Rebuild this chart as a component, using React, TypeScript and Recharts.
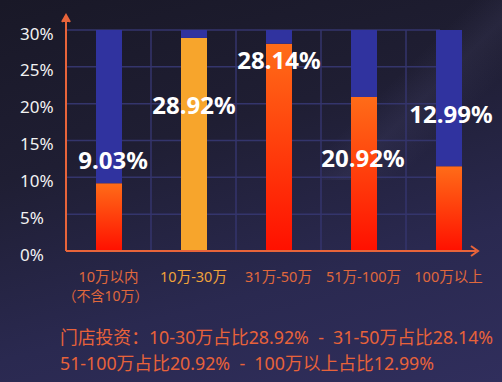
import React from 'react';
import { BarChart, Bar, XAxis, YAxis, CartesianGrid, Cell, LabelList } from 'recharts';

const categories = ['10万以内', '10万-30万', '31万-50万', '51万-100万', '100万以上'];
const subLabels = ['（不含10万）', '', '', '', ''];
const barValues = [9.2, 28.92, 28.14, 20.92, 11.5];
const valueLabels = ['9.03%', '28.92%', '28.14%', '20.92%', '12.99%'];
const yTicks = [0, 5, 10, 15, 20, 25, 30];
const yMax = 30;
const noteLines = [
  '门店投资：10-30万占比28.92%  -  31-50万占比28.14%',
  '51-100万占比20.92%  -  100万以上占比12.99%',
];

// label placement relative to the top of each bar (px), picked by eye
const labelShift = [
  { dx: 4, dy: -24 },
  { dx: 0, dy: 67 },
  { dx: 0, dy: 16 },
  { dx: -1, dy: 61 },
  { dx: 2, dy: -53 },
];

const highlight = 1;
const axisColor = '#e8643a';
const gridColor = '#34356c';
const restColor = '#30339f';
const font = '"Noto Sans", "Noto Sans CJK SC", sans-serif';

const data = categories.map((name, i) => ({
  name,
  value: barValues[i],
  rest: yMax - barValues[i],
}));

function YTick(props: any) {
  return (
    <text x={20} y={props.y} dy={3} textAnchor="start" dominantBaseline="central" fill="#f2f2f2" fontSize={17} fontFamily={font}>
      {props.payload.value}%
    </text>
  );
}

function XTick(props: any) {
  const i = props.index;
  const color = i === highlight ? '#f0a23a' : '#e0683c';
  return (
    <g>
      <text x={props.x} y={props.y} dy={25} textAnchor="middle" dominantBaseline="central" fill={color} fontSize={14.5} fontFamily={font}>
        {props.payload.value}
      </text>
      {subLabels[i] ? (
        <text x={props.x - 3} y={props.y} dy={44} textAnchor="middle" dominantBaseline="central" fill={color} fontSize={14} fontFamily={font}>
          {subLabels[i]}
        </text>
      ) : null}
    </g>
  );
}

function ValueLabel(props: any) {
  const i = props.index;
  const s = labelShift[i];
  return (
    <text
      x={props.x + props.width / 2 + s.dx}
      y={props.y + s.dy}
      textAnchor="middle"
      dominantBaseline="central"
      fill="#ffffff"
      fontSize={24}
      fontWeight={700}
      fontFamily={font}
    >
      {valueLabels[i]}
    </text>
  );
}

function GridRow(props: any) {
  const x2 = props.x1 + (props.x2 - props.x1) * 0.88;
  return <line key={props.key} x1={props.x1} y1={props.y1} x2={x2} y2={props.y2} stroke={gridColor} strokeWidth={1.5} />;
}

export default function App() {
  return (
    <div
      style={{
        position: 'fixed',
        left: 0,
        top: 0,
        width: 502,
        height: 382,
        overflow: 'hidden',
        background: 'linear-gradient(165deg, #191827 0%, #1f1e33 35%, #2a2950 70%, #302e5c 100%)',
        fontFamily: font,
      }}
    >
      <div
        style={{
          position: 'absolute',
          right: -80,
          top: -40,
          width: 260,
          height: 220,
          background: 'linear-gradient(135deg, rgba(255,255,255,0) 40%, rgba(120,118,170,0.10) 50%, rgba(255,255,255,0) 62%)',
        }}
      />
      <BarChart
        width={502}
        height={382}
        data={data}
        margin={{ top: 30, right: 11, left: 0, bottom: 81 }}
        barSize={26}
        style={{ position: 'absolute', left: 0, top: 0 }}
      >
        <defs>
          <linearGradient id="hotGrad" x1="0" y1="0" x2="0" y2="1">
            <stop offset="0%" stopColor="#ff6c18" />
            <stop offset="100%" stopColor="#ff1000" />
          </linearGradient>
        </defs>
        <CartesianGrid
          stroke={gridColor}
          strokeWidth={1.5}
          horizontal={GridRow}
          verticalCoordinatesGenerator={({ offset }: any) =>
            [1, 2, 3, 4].map((k) => offset.left + (offset.width * k) / categories.length)
          }
        />
        <XAxis
          dataKey="name"
          axisLine={false}
          tickLine={false}
          tickSize={0}
          tickMargin={0}
          height={50}
          interval={0}
          tick={<XTick />}
        />
        <YAxis
          width={66}
          domain={[0, yMax]}
          ticks={yTicks}
          axisLine={false}
          tickLine={false}
          tick={<YTick />}
        />
        <Bar dataKey="value" stackId="a" isAnimationActive={false}>
          {data.map((d, i) => (
            <Cell key={d.name} fill={i === highlight ? '#f7a52c' : 'url(#hotGrad)'} />
          ))}
          <LabelList dataKey="value" content={<ValueLabel />} />
        </Bar>
        <Bar dataKey="rest" stackId="a" fill={restColor} isAnimationActive={false} />
      </BarChart>
      <svg width={502} height={382} style={{ position: 'absolute', left: 0, top: 0, pointerEvents: 'none' }}>
        <g stroke={axisColor} strokeWidth={2} fill="none">
          <line x1={66} y1={251} x2={66} y2={17} />
          <polyline points="62,22 66,15 70,22" fill={axisColor} />
          <line x1={66} y1={251} x2={476} y2={251} />
          <polyline points="471,246 478,251 471,256" />
        </g>
      </svg>
      {noteLines.map((t, i) => (
        <div
          key={i}
          style={{
            position: 'absolute',
            left: 60,
            top: 326 + i * 26,
            fontSize: 17.8,
            lineHeight: '22px',
            color: '#e8623a',
            whiteSpace: 'pre',
          }}
        >
          {t}
        </div>
      ))}
    </div>
  );
}
